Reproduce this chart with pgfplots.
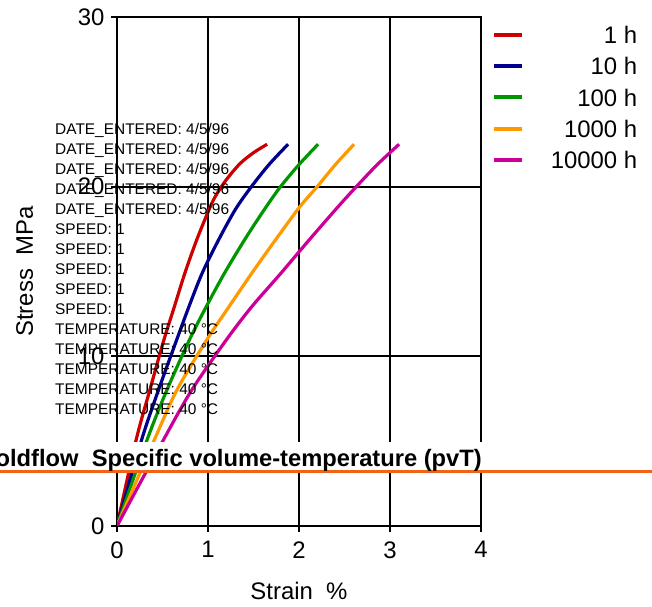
\documentclass[border=0pt]{standalone}
\usepackage{fontspec}
\setmainfont{Liberation Sans}
\usepackage{pgfplots}
\pgfplotsset{compat=1.18}
\definecolor{cRed}{RGB}{204,0,0}
\definecolor{cBlue}{RGB}{0,0,140}
\definecolor{cGreen}{RGB}{0,150,0}
\definecolor{cOrange}{RGB}{255,153,0}
\definecolor{cMag}{RGB}{204,0,153}
\definecolor{bandOrange}{RGB}{240,100,20}
\begin{document}
\begin{tikzpicture}
\useasboundingbox (0,0) rectangle (652bp,607bp);
\begin{axis}[
  at={(117bp,81bp)}, anchor=south west,
  scale only axis, width=364bp, height=509bp,
  xmin=0, xmax=4, ymin=0, ymax=30,
  xtick={0,1,2,3,4}, ytick={0,10,20,30},
  xmajorgrids, ymajorgrids,
  grid style={black, line width=1.9bp},
  major grid style={black, line width=1.9bp},
  axis line style={black, line width=1.8bp},
  tick style={black, line width=1.8bp},
  tick align=outside, major tick length=6bp,
  xtick pos=left, ytick pos=left,
  /pgf/number format/assume math mode=true,
  ticklabel style={font=\fontsize{24}{28}\selectfont},
  xticklabel style={yshift=-6bp},
  yticklabel style={xshift=-3bp},
  xlabel={Strain\ \ \%}, ylabel={Stress\ \ MPa},
  label style={font=\fontsize{24}{28}\selectfont},
  xlabel style={at={(axis description cs:0.5,0)}, anchor=north, yshift=-56bp, inner sep=0pt},
  ylabel style={at={(axis description cs:-0.2775,0.5)}, anchor=north, inner sep=0pt},
  legend cell align=right,
  legend style={at={(axis description cs:1.0302,0.9824)}, anchor=north west, draw=none, fill=none,
    inner sep=0pt, row sep=13.7bp, font=\fontsize{24}{28}\selectfont,
    nodes={inner sep=0pt, text height=17.5bp, text depth=0pt}},
  legend image code/.code={\draw[#1, line width=4bp] (0bp,0bp) -- (28bp,0bp); \path (55bp,0bp);},
]
\addplot[cRed, line width=3.2bp, smooth] coordinates {(0,0) (0.21,5.07) (0.36,8.0) (0.515,10.96) (0.63,12.92) (0.745,14.89) (0.875,16.85) (1.025,18.82) (1.10,19.6) (1.20,20.4) (1.35,21.35) (1.50,22.0) (1.65,22.5)};
\addlegendentry{1 h}
\addplot[cBlue, line width=3.2bp, smooth] coordinates {(0,0) (0.27,5.07) (0.455,8.0) (0.655,10.96) (0.79,12.92) (0.935,14.89) (1.115,16.85) (1.30,18.65) (1.47,19.95) (1.67,21.3) (1.88,22.5)};
\addlegendentry{10 h}
\addplot[cGreen, line width=3.2bp, smooth] coordinates {(0,0) (0.33,5.07) (0.547,8.0) (0.795,10.96) (0.98,12.92) (1.18,14.89) (1.40,16.85) (1.60,18.5) (1.79,19.95) (2.00,21.3) (2.21,22.5)};
\addlegendentry{100 h}
\addplot[cOrange, line width=3.2bp, smooth] coordinates {(0,0) (0.41,5.07) (0.657,8.0) (0.985,10.96) (1.23,12.92) (1.48,14.89) (1.74,16.85) (2.01,18.82) (2.20,20) (2.40,21.3) (2.605,22.5)};
\addlegendentry{1000 h}
\addplot[cMag, line width=3.2bp, smooth] coordinates {(0,0) (0.51,5.07) (0.82,8.0) (1.20,10.96) (1.48,12.92) (1.80,14.89) (2.11,16.85) (2.43,18.82) (2.63,20) (2.86,21.3) (3.10,22.5)};
\addlegendentry{10000 h}
\end{axis}
\begin{scope}[every node/.style={anchor=base west, inner sep=0pt, font=\fontsize{15.5}{18}\selectfont}]
\node at (55bp,472.2bp) {DATE\_ENTERED: 4/5/96};
\node at (55bp,452.2bp) {DATE\_ENTERED: 4/5/96};
\node at (55bp,432.2bp) {DATE\_ENTERED: 4/5/96};
\node at (55bp,412.2bp) {DATE\_ENTERED: 4/5/96};
\node at (55bp,392.2bp) {DATE\_ENTERED: 4/5/96};
\node at (55bp,372.2bp) {SPEED: 1};
\node at (55bp,352.2bp) {SPEED: 1};
\node at (55bp,332.2bp) {SPEED: 1};
\node at (55bp,312.2bp) {SPEED: 1};
\node at (55bp,292.2bp) {SPEED: 1};
\node at (55bp,272.2bp) {TEMPERATURE: 40 °C};
\node at (55bp,252.2bp) {TEMPERATURE: 40 °C};
\node at (55bp,232.2bp) {TEMPERATURE: 40 °C};
\node at (55bp,212.2bp) {TEMPERATURE: 40 °C};
\node at (55bp,192.2bp) {TEMPERATURE: 40 °C};
\end{scope}
\fill[white] (0bp,137bp) rectangle (652bp,165bp);
\fill[bandOrange] (0bp,133.7bp) rectangle (652bp,137.3bp);
\node[anchor=base east, inner sep=0pt, font=\fontsize{23.8}{28}\selectfont\bfseries] at (482bp,140.3bp) {Moldflow\ \ Specific volume-temperature (pvT)};
\end{tikzpicture}
\end{document}
